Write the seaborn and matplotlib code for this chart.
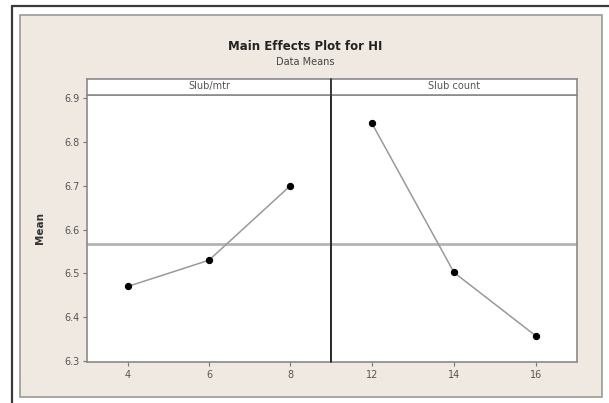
import matplotlib
matplotlib.use("Agg")
import matplotlib.pyplot as plt
from matplotlib.patches import Rectangle
from matplotlib.lines import Line2D
import numpy as np
import pandas as pd
import seaborn as sns

# Factor levels and mean response (HI) at each level
slub_mtr_levels = [4, 6, 8]
slub_mtr_means = [6.470, 6.530, 6.700]
slub_count_levels = [12, 14, 16]
slub_count_means = [6.842, 6.502, 6.357]
y_ticks = [6.3, 6.4, 6.5, 6.6, 6.7, 6.8, 6.9]
factor_names = ["Slub/mtr", "Slub count"]

sns.set_theme(style="white")
plt.rcParams["font.family"] = ["DejaVu Sans"]

W, H = 609, 403
fig = plt.figure(figsize=(W / 100, H / 100), dpi=100, facecolor="white")

def fx(px):
    return px / W

def fy(py):
    return 1 - py / H

# Window frame and beige graph region
fig.add_artist(Line2D([fx(12), fx(12)], [fy(6), 0], transform=fig.transFigure,
                      color="#3a3a3a", lw=1.6))
fig.add_artist(Line2D([fx(12), 1], [fy(6), fy(6)], transform=fig.transFigure,
                      color="#3a3a3a", lw=1.6))
fig.add_artist(Rectangle((fx(20), fy(397)), fx(602) - fx(20), fy(15) - fy(397),
                         transform=fig.transFigure, facecolor="#efe9e1",
                         edgecolor="#9a9a96", lw=1.2, zorder=0))

left, right, mid = 87, 577, 331
top_plot, bottom_plot, strip_top = 95, 362, 79

ax_l = fig.add_axes([fx(left), fy(bottom_plot), fx(mid) - fx(left), fy(top_plot) - fy(bottom_plot)])
ax_r = fig.add_axes([fx(mid), fy(bottom_plot), fx(right) - fx(mid), fy(top_plot) - fy(bottom_plot)])

df_l = pd.DataFrame({"level": slub_mtr_levels, "mean": slub_mtr_means})
df_r = pd.DataFrame({"level": slub_count_levels, "mean": slub_count_means})
grand_mean = np.mean(slub_mtr_means + slub_count_means)

ylim = (6.2977, 6.907)
for ax, df, xlim in [(ax_l, df_l, (3, 9)), (ax_r, df_r, (11, 17))]:
    ax.set_facecolor("white")
    ax.axhline(grand_mean, color="#b4b4b4", lw=2.0, zorder=1)
    sns.lineplot(data=df, x="level", y="mean", ax=ax, color="#999999", lw=1.1,
                 marker="o", markersize=4.5, markerfacecolor="black",
                 markeredgecolor="black", zorder=3)
    ax.set_xlim(*xlim)
    ax.set_ylim(*ylim)
    ax.set_xticks(df["level"])
    ax.set_xticklabels([str(v) for v in df["level"]])
    ax.set_xlabel("")
    ax.set_ylabel("")
    for s in ax.spines.values():
        s.set_color("#8a8a8a")
        s.set_linewidth(1.2)
    ax.tick_params(axis="x", length=3, width=0.8, color="#777777", pad=3,
                   labelsize=7, labelcolor="#555555", direction="out", bottom=True)

ax_l.set_yticks(y_ticks)
ax_l.set_yticklabels([f"{v:.1f}" for v in y_ticks])
ax_l.tick_params(axis="y", length=3, width=0.8, color="#777777", pad=2,
                 labelsize=7, labelcolor="#555555", direction="out", left=True)
ax_r.set_yticks([])
ax_l.spines["right"].set_color("#2a2a2a")
ax_r.spines["left"].set_color("#2a2a2a")

ax_l.set_ylabel("Mean", fontsize=7.5, fontweight="bold", color="#333333", labelpad=14)

# Panel header strips
for x0, x1, name in [(left, mid, factor_names[0]), (mid, right, factor_names[1])]:
    sax = fig.add_axes([fx(x0), fy(top_plot), fx(x1) - fx(x0), fy(strip_top) - fy(top_plot)])
    sax.set_facecolor("white")
    sax.set_xticks([])
    sax.set_yticks([])
    for s in sax.spines.values():
        s.set_color("#8a8a8a")
        s.set_linewidth(1.2)
    sax.text(0.5, 0.55, name, transform=sax.transAxes, ha="center", va="center",
             fontsize=7, color="#555555")
fig.add_artist(Line2D([fx(mid), fx(mid)], [fy(bottom_plot), fy(strip_top)],
                      transform=fig.transFigure, color="#2a2a2a", lw=1.2))

fig.text(fx(305), fy(46), "Main Effects Plot for HI", ha="center", va="center",
         fontsize=8.5, fontweight="bold", color="#222222")
fig.text(fx(305), fy(62), "Data Means", ha="center", va="center",
         fontsize=7, color="#444444")

fig.savefig("out.png", dpi=100, facecolor="white")
